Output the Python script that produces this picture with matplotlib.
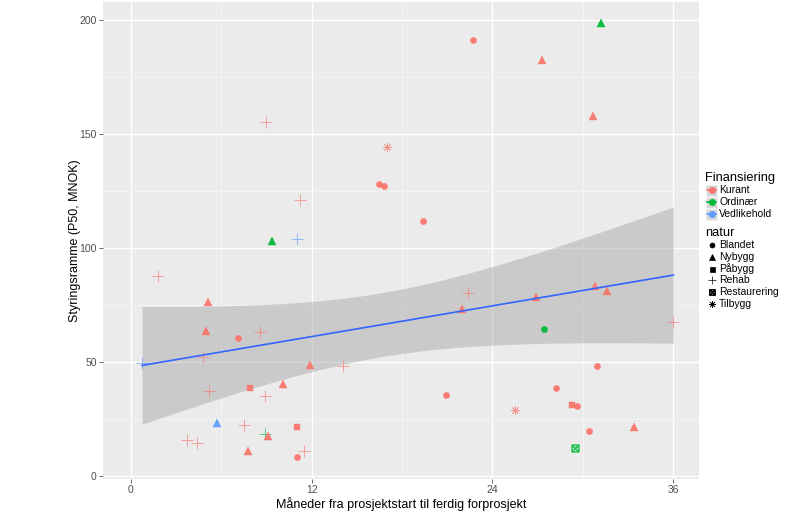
import numpy as np
import matplotlib
matplotlib.use('Agg')
import matplotlib.pyplot as plt
from matplotlib.lines import Line2D
from matplotlib.patches import Rectangle

plt.rcParams['font.family'] = ['Liberation Sans', 'DejaVu Sans']

# data: months, budget (MNOK), financing, type
maaneder = [22.7, 27.3, 31.2, 30.7, 9.0, 17.0, 16.5, 16.8, 11.2, 19.4,
            9.4, 11.0, 1.8, 5.1, 5.0, 7.1, 8.6, 4.8, 0.75, 11.9,
            14.1, 5.2, 7.9, 10.1, 8.9, 5.7, 7.5, 11.0, 8.9, 9.1,
            3.7, 4.4, 7.8, 11.5, 11.0, 22.4, 22.0, 26.9, 30.8, 31.6,
            27.4, 36.0, 30.9, 20.9, 28.2, 25.5, 29.3, 29.6, 30.4, 33.4,
            29.5]
styringsramme = [191.1, 182.6, 198.7, 157.9, 155.2, 144.2, 128.0, 127.1, 120.9, 111.7,
                 103.1, 103.7, 87.5, 76.4, 63.4, 60.4, 63.1, 52.2, 49.6, 48.5,
                 48.0, 37.2, 38.4, 40.1, 35.1, 23.1, 22.1, 21.4, 18.2, 17.4,
                 15.7, 14.4, 11.0, 11.0, 8.1, 80.2, 73.2, 78.6, 83.3, 81.2,
                 64.4, 67.5, 48.1, 35.3, 38.6, 28.8, 30.9, 30.6, 19.6, 21.5,
                 12.0]
finansiering = ['Kurant', 'Kurant', 'Ordinær', 'Kurant', 'Kurant', 'Kurant', 'Kurant', 'Kurant', 'Kurant', 'Kurant',
                'Ordinær', 'Vedlikehold', 'Kurant', 'Kurant', 'Kurant', 'Kurant', 'Kurant', 'Kurant', 'Vedlikehold', 'Kurant',
                'Kurant', 'Kurant', 'Kurant', 'Kurant', 'Kurant', 'Vedlikehold', 'Kurant', 'Kurant', 'Ordinær', 'Kurant',
                'Kurant', 'Kurant', 'Kurant', 'Kurant', 'Kurant', 'Kurant', 'Kurant', 'Kurant', 'Kurant', 'Kurant',
                'Ordinær', 'Kurant', 'Kurant', 'Kurant', 'Kurant', 'Kurant', 'Kurant', 'Kurant', 'Kurant', 'Kurant',
                'Ordinær']
natur = ['Blandet', 'Nybygg', 'Nybygg', 'Nybygg', 'Rehab', 'Tilbygg', 'Blandet', 'Blandet', 'Rehab', 'Blandet',
         'Nybygg', 'Rehab', 'Rehab', 'Nybygg', 'Nybygg', 'Blandet', 'Rehab', 'Rehab', 'Rehab', 'Nybygg',
         'Rehab', 'Rehab', 'Påbygg', 'Nybygg', 'Rehab', 'Nybygg', 'Rehab', 'Påbygg', 'Rehab', 'Nybygg',
         'Rehab', 'Rehab', 'Nybygg', 'Rehab', 'Blandet', 'Rehab', 'Nybygg', 'Nybygg', 'Nybygg', 'Nybygg',
         'Blandet', 'Rehab', 'Blandet', 'Blandet', 'Blandet', 'Tilbygg', 'Påbygg', 'Blandet', 'Blandet', 'Nybygg',
         'Restaurering']

fin_levels = ['Kurant', 'Ordinær', 'Vedlikehold']
natur_levels = ['Blandet', 'Nybygg', 'Påbygg', 'Rehab', 'Restaurering', 'Tilbygg']

colors = {'Kurant': '#F8766D', 'Ordinær': '#00BA38', 'Vedlikehold': '#619CFF'}
markers = {'Blandet': 'o', 'Nybygg': '^', 'Påbygg': 's', 'Rehab': '+',
           'Restaurering': r'$\boxtimes$', 'Tilbygg': (8, 2, 0)}
sizes = {'Blandet': 4.5, 'Nybygg': 5.5, 'Påbygg': 4.5, 'Rehab': 8,
         'Restaurering': 5.5, 'Tilbygg': 6}


def main():
    x = np.array(maaneder)
    y = np.array(styringsramme)

    fig = plt.figure(figsize=(8.05, 5.12), dpi=100)
    ax = fig.add_axes([103 / 805, 1 - 479 / 512, 596 / 805, 477 / 512])
    ax.set_facecolor('#EBEBEB')
    for s in ax.spines.values():
        s.set_visible(False)

    ax.set_xlim(-1.84, 37.7)
    ax.set_ylim(-1.45, 207.9)
    ax.set_xticks([0, 12, 24, 36])
    ax.set_yticks([0, 50, 100, 150, 200])
    ax.set_xticks([6, 18, 30], minor=True)
    ax.set_yticks([25, 75, 125, 175], minor=True)
    ax.grid(which='major', color='white', linewidth=1.0)
    ax.grid(which='minor', color='#F5F5F5', linewidth=0.6)
    ax.set_axisbelow(True)
    ax.tick_params(which='major', length=3, width=0.6, color='#4D4D4D',
                   labelcolor='#4D4D4D', labelsize=7.5, pad=1.5)
    ax.tick_params(which='minor', length=0)

    # linear fit with 95% confidence band
    n = len(x)
    b, a = np.polyfit(x, y, 1)
    xs = np.linspace(x.min(), x.max(), 80)
    resid = y - (a + b * x)
    s2 = np.sum(resid ** 2) / (n - 2)
    se = np.sqrt(s2 * (1 / n + (xs - x.mean()) ** 2 / np.sum((x - x.mean()) ** 2)))
    t = 2.01  # t quantile, df ~ 49
    fit = a + b * xs
    ax.fill_between(xs, fit - t * se, fit + t * se, color='#999999', alpha=0.4,
                    linewidth=0, zorder=1)
    ax.plot(xs, fit, color='#3366FF', linewidth=1.2, zorder=3)

    for xi, yi, f, nt in zip(x, y, finansiering, natur):
        thin = nt in ('Rehab', 'Tilbygg')
        ax.plot(xi, yi, linestyle='none', marker=markers[nt], markersize=sizes[nt],
                color=colors[f], markeredgewidth=0.6 if thin else 0.3,
                alpha=0.75 if thin else 0.95, zorder=2)

    ax.set_xlabel('Måneder fra prosjektstart til ferdig forprosjekt', fontsize=9, labelpad=1)
    ax.set_ylabel('Styringsramme (P50, MNOK)', fontsize=9, labelpad=-1)

    # legends drawn by hand to mimic ggplot keys
    W, H = 805, 512
    fig.text(705 / W, 1 - 178 / H, 'Finansiering', fontsize=9.3, va='center')
    for i, f in enumerate(fin_levels):
        yc = 190 + i * 12
        fig.add_artist(Rectangle((706 / W, 1 - (yc + 6) / H), 11 / W, 11.5 / H,
                                 transform=fig.transFigure, facecolor='#D6D6D6',
                                 edgecolor='#F2F2F2', linewidth=0.5))
        fig.add_artist(Line2D([707 / W, 716 / W], [1 - yc / H, 1 - yc / H],
                              transform=fig.transFigure, color=colors[f], linewidth=1.2))
        fig.add_artist(Line2D([711.5 / W], [1 - yc / H], transform=fig.transFigure,
                              marker='o', markersize=4, color=colors[f]))
        fig.text(719 / W, 1 - yc / H, f, fontsize=7.5, va='center')

    fig.text(705 / W, 1 - 233 / H, 'natur', fontsize=9.3, va='center')
    for i, nt in enumerate(natur_levels):
        yc = 245 + i * 11.8
        fig.add_artist(Line2D([711.5 / W], [1 - yc / H], transform=fig.transFigure,
                              marker=markers[nt], markersize=sizes[nt] * 0.8,
                              color='black', markeredgewidth=0.5))
        fig.text(719 / W, 1 - yc / H, nt, fontsize=7.5, va='center')

    fig.savefig('out.png', dpi=100)


if __name__ == '__main__':
    main()
